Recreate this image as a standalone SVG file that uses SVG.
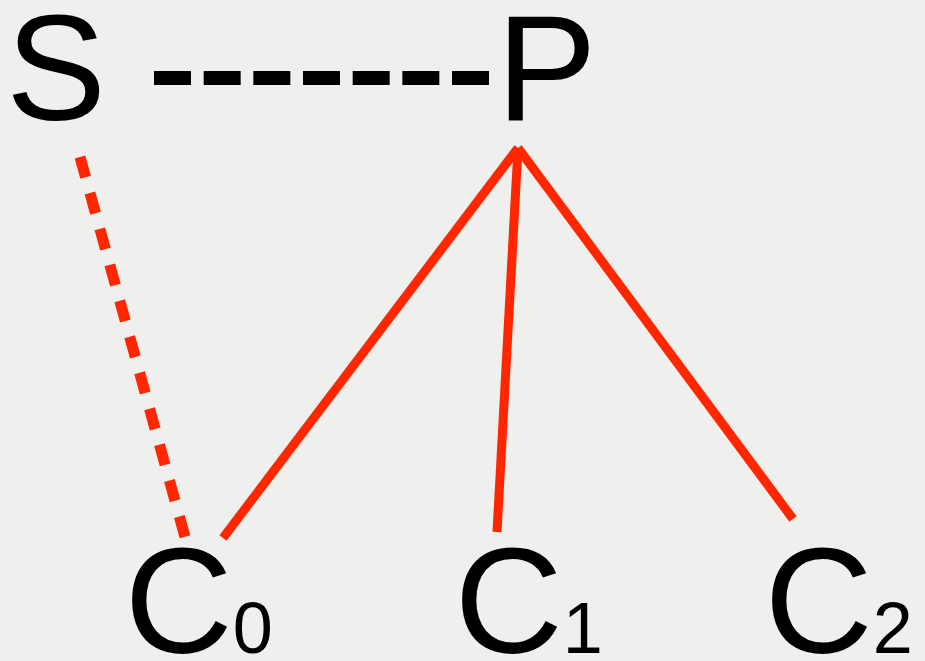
<svg xmlns="http://www.w3.org/2000/svg" width="925" height="661" viewBox="0 0 925 661">
  <style>
    .lbl { font-family: "Liberation Sans", Arial, Helvetica, sans-serif; font-size: 150px; fill: #000000; }
    .sub { font-size: 72px; }
    .tree { stroke: #ff2600; stroke-width: 9; fill: none; stroke-linecap: butt; }
    .dotted { stroke: #ff2600; stroke-width: 11; fill: none; stroke-dasharray: 21 16.3; }
    .sibling { stroke: #000000; stroke-width: 14; fill: none; stroke-dasharray: 37 12.67; }
  </style>
  <rect x="0" y="0" width="925" height="661" fill="#efefee"/>
  <g id="connectors">
    <line class="sibling" x1="154" y1="78" x2="489" y2="78"/>
    <line class="dotted" x1="80" y1="157" x2="185" y2="537"/>
    <line class="tree" x1="518" y1="148" x2="223" y2="538"/>
    <line class="tree" x1="518" y1="148" x2="497" y2="532"/>
    <line class="tree" x1="518" y1="148" x2="793" y2="519"/>
  </g>
  <g id="node-S">
    <text class="lbl" x="6" y="120">S</text>
  </g>
  <g id="node-P">
    <text class="lbl" x="496.5" y="120">P</text>
  </g>
  <g id="node-C0">
    <text class="lbl" x="124.5" y="653">C<tspan class="sub">0</tspan></text>
  </g>
  <g id="node-C1">
    <text class="lbl" x="454.5" y="653">C<tspan class="sub">1</tspan></text>
  </g>
  <g id="node-C2">
    <text class="lbl" x="764.5" y="653">C<tspan class="sub">2</tspan></text>
  </g>
</svg>
